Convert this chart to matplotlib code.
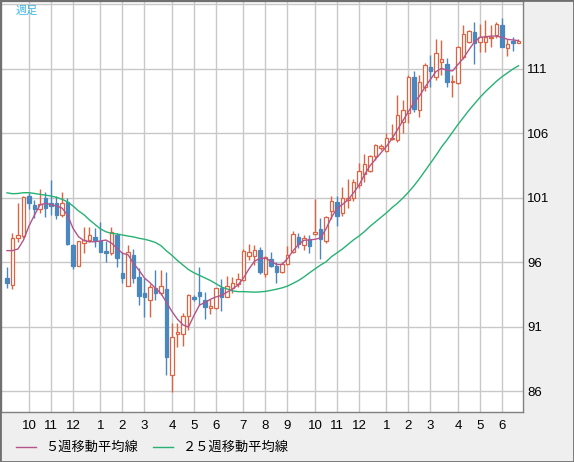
import matplotlib
matplotlib.use("Agg")
import matplotlib.pyplot as plt
from matplotlib.lines import Line2D
from matplotlib.patches import Rectangle

# weekly candles (open, high, low, close), one entry per week
opens = [94.82, 94.26, 97.88, 98.05, 101.16, 100.46, 100.12, 100.98, 100.64, 100.59,
         99.68, 100.71, 97.36, 95.75, 97.49, 97.74, 98.0, 97.67, 96.91, 96.71,
         98.13, 95.21, 94.2, 96.58, 94.9, 93.66, 93.09, 94.0, 93.61, 93.95,
         87.26, 90.46, 90.43, 91.85, 93.3, 93.74, 93.09, 92.45, 92.45, 94.05,
         93.35, 94.0, 94.31, 94.64, 96.53, 96.53, 96.97, 95.11, 96.25, 95.73,
         95.29, 95.88, 96.84, 98.0, 97.36, 97.8, 98.19, 98.57, 97.69, 100.02,
         100.71, 99.81, 100.85, 100.98, 102.0, 102.86, 103.12, 104.23, 104.88, 104.67,
         105.55, 105.5, 106.91, 107.61, 110.4, 107.82, 109.58, 111.18, 110.4, 111.57,
         111.39, 109.97, 109.89, 111.91, 113.12, 113.89, 113.07, 113.12, 113.38, 113.64,
         114.41, 112.6, 113.17, 113.0]
highs = [95.67, 98.31, 100.64, 101.16, 101.36, 100.84, 101.67, 101.49, 102.4, 101.18,
         101.49, 100.98, 97.43, 97.67, 98.73, 98.78, 98.65, 99.16, 97.7, 98.78,
         98.31, 96.84, 97.36, 97.02, 95.55, 94.78, 94.31, 95.42, 95.42, 95.29,
         91.29, 91.33, 92.06, 93.56, 93.48, 95.67, 93.74, 93.15, 94.0, 94.7,
         94.95, 94.9, 95.21, 97.02, 97.41, 97.36, 97.23, 96.5, 96.84, 96.06,
         96.0, 97.28, 98.47, 98.31, 98.13, 98.13, 100.9, 99.43, 99.6, 101.16,
         101.16, 101.83, 102.45, 102.45, 103.74, 104.39, 104.3, 105.19, 105.19, 106.01,
         106.74, 108.98, 108.6, 110.5, 110.84, 110.5, 111.49, 112.09, 113.3, 113.25,
         111.83, 110.53, 112.8, 114.41, 114.05, 114.67, 114.49, 114.8, 114.41, 114.67,
         114.93, 113.3, 113.5, 113.35]
lows = [94.02, 93.92, 97.61, 97.88, 100.15, 99.43, 99.81, 99.5, 99.68, 99.35,
        99.5, 97.36, 95.47, 95.7, 96.71, 97.61, 97.23, 96.8, 96.0, 96.58,
        95.67, 94.39, 94.2, 94.39, 92.71, 91.8, 91.75, 93.09, 93.5, 87.28,
        85.98, 89.47, 89.53, 90.77, 93.0, 92.71, 91.6, 91.99, 92.4, 92.26,
        93.3, 93.61, 94.12, 94.59, 96.19, 95.8, 95.11, 94.85, 95.63, 94.39,
        95.18, 95.8, 96.76, 97.1, 96.98, 96.71, 98.13, 96.25, 97.5, 99.4,
        98.83, 99.6, 100.2, 100.79, 101.8, 102.26, 103.0, 103.95, 104.72, 104.54,
        105.5, 105.32, 106.06, 106.79, 107.69, 107.3, 109.32, 109.58, 110.15, 110.53,
        109.58, 108.81, 109.85, 111.75, 113.05, 111.36, 112.34, 112.34, 112.68, 113.38,
        112.68, 112.0, 112.42, 113.0]
closes = [94.43, 97.92, 98.11, 101.05, 100.64, 100.15, 100.51, 100.2, 100.38, 99.68,
          100.59, 97.43, 95.75, 97.67, 97.74, 98.11, 97.74, 96.84, 96.71, 98.39,
          96.33, 94.82, 96.79, 94.78, 93.4, 93.3, 94.08, 93.66, 94.18, 88.65,
          90.2, 90.59, 91.88, 93.46, 93.15, 93.4, 92.53, 92.63, 94.0, 93.35,
          94.18, 94.39, 94.7, 96.89, 96.79, 96.97, 95.29, 96.4, 95.75, 95.29,
          95.86, 96.58, 98.21, 97.43, 97.88, 97.3, 98.34, 97.8, 99.5, 100.79,
          99.63, 101.02, 100.98, 102.22, 103.1, 103.62, 104.28, 105.09, 105.03, 105.63,
          105.65, 107.41, 107.82, 110.36, 107.9, 110.0, 111.3, 110.87, 112.26, 111.75,
          110.02, 110.09, 112.73, 113.71, 113.97, 113.04, 113.46, 113.5, 113.5, 114.49,
          112.73, 112.94, 113.04, 113.17]

# moving averages
ma5 = [96.92, 96.92, 97.05, 97.74, 98.83, 99.68, 100.46, 100.59, 100.48, 100.38,
       100.22, 99.68, 98.65, 98.0, 97.69, 97.61, 97.61, 97.67, 97.74, 97.5,
       97.1, 96.71, 96.6, 95.94, 95.4, 94.8, 94.43, 94.0, 93.6, 92.9,
       92.2, 91.6, 91.16, 91.0, 91.9, 92.7, 92.9, 93.15, 93.33, 93.45,
       93.7, 93.95, 94.25, 94.8, 95.5, 96.1, 96.33, 96.33, 96.1, 95.85,
       95.85, 96.3, 96.9, 97.4, 97.72, 97.75, 97.8, 97.9, 98.6, 99.5,
       100.2, 100.5, 100.85, 101.4, 102.0, 102.8, 103.5, 104.0, 104.5, 105.0,
       105.6, 106.3, 107.0, 107.7, 108.4, 108.9, 109.6, 110.2, 110.8, 111.05,
       110.9, 110.85, 111.35, 111.85, 112.5, 113.1, 113.45, 113.5, 113.55, 113.55,
       113.45, 113.3, 113.25, 113.2]
ma25 = [101.4, 101.33, 101.35, 101.41, 101.41, 101.35, 101.28, 101.22, 101.15, 101.05,
        100.9, 100.7, 100.38, 100.0, 99.7, 99.3, 98.95, 98.6, 98.38, 98.25,
        98.21, 98.13, 98.05, 97.98, 97.88, 97.8, 97.69, 97.55, 97.3, 96.9,
        96.55, 96.15, 95.8, 95.45, 95.2, 95.0, 94.8, 94.6, 94.35, 94.1,
        93.95, 93.8, 93.74, 93.74, 93.72, 93.7, 93.72, 93.76, 93.84, 93.93,
        94.03, 94.17, 94.38, 94.6, 94.88, 95.2, 95.5, 95.8, 96.05, 96.45,
        96.75, 97.05, 97.4, 97.75, 98.05, 98.4, 98.8, 99.15, 99.5, 99.85,
        100.25, 100.6, 101.0, 101.45, 101.95, 102.5, 103.1, 103.7, 104.3, 104.95,
        105.5, 106.1, 106.7, 107.25, 107.8, 108.3, 108.8, 109.25, 109.65, 110.05,
        110.4, 110.7, 111.0, 111.25]

month_pos = [4, 8, 12, 17, 21, 25, 30, 34, 38, 43, 47, 51, 56, 60, 64, 69, 73, 77, 82, 86, 90]
month_labels = ["10", "11", "12", "1", "2", "3", "4", "5", "6", "7", "8", "9",
                "10", "11", "12", "1", "2", "3", "4", "5", "6"]
price_ticks = [86, 91, 96, 101, 106, 111, 116]
price_labels = ["86", "91", "96", "101", "106", "111", ""]

UP = "#dc6442"
DOWN = "#4a87bf"
MA5_COL = "#b3548c"
MA25_COL = "#27b274"
GRID = "#c8c8c8"
FRAME = "#808080"

W, H = 574, 462
fig = plt.figure(figsize=(W / 100, H / 100), dpi=100, facecolor="#efefef")
ax = fig.add_axes([1 / W, 50 / H, 522 / W, 411 / H])
ax.set_facecolor("white")

x = list(range(len(closes)))

# wicks
wick_cols = [UP if c >= o else DOWN for o, c in zip(opens, closes)]
ax.vlines(x, lows, highs, colors=wick_cols, linewidth=1.0, zorder=3)

# bodies
bottoms = [min(o, c) for o, c in zip(opens, closes)]
heights = [max(abs(c - o), 0.12) for o, c in zip(opens, closes)]
faces = ["white" if c >= o else DOWN for o, c in zip(opens, closes)]
ax.bar(x, heights, bottom=bottoms, width=0.62, color=faces, edgecolor=wick_cols,
       linewidth=0.9, zorder=4)

ax.plot(x, ma25, color=MA25_COL, linewidth=1.0, zorder=5)
ax.plot(x, ma5, color=MA5_COL, linewidth=1.0, zorder=5)

ax.set_xlim(-1.09, 93.82)
ax.set_ylim(84.41, 116.27)

ax.set_xticks(month_pos)
ax.set_xticklabels(month_labels, fontsize=9.5, family="Liberation Sans")
ax.set_yticks(price_ticks)
ax.set_yticklabels(price_labels, fontsize=9.5, family="Liberation Sans")
ax.yaxis.tick_right()
ax.tick_params(axis="both", length=0, colors="black")
ax.tick_params(axis="x", pad=6)
ax.tick_params(axis="y", pad=3)
ax.grid(True, color=GRID, linewidth=1.0, zorder=0)
ax.set_axisbelow(True)
for s in ax.spines.values():
    s.set_color(FRAME)
    s.set_linewidth(1.0)

ax.text(15 / 522, 1 - 10 / 411, "週足", transform=ax.transAxes, color="#3fb6e6",
        fontsize=8, family=["Noto Sans CJK JP", "DejaVu Sans"], va="center", ha="left")

# legend under the chart
def fx(px):
    return px / W

def fy(py):
    return 1 - py / H

fig.add_artist(Line2D([fx(16), fx(36)], [fy(447), fy(447)], color=MA5_COL, linewidth=1.0))
fig.text(fx(45), fy(447), "５週移動平均線", fontsize=9.5, va="center", ha="left",
         family=["Noto Sans CJK JP", "DejaVu Sans"])
fig.add_artist(Line2D([fx(153), fx(173)], [fy(447), fy(447)], color=MA25_COL, linewidth=1.0))
fig.text(fx(183), fy(447), "２５週移動平均線", fontsize=9.5, va="center", ha="left",
         family=["Noto Sans CJK JP", "DejaVu Sans"])

fig.patches.append(Rectangle((0, 0), 1, 1, transform=fig.transFigure, fill=False,
                             edgecolor="#707070", linewidth=2.0))

fig.savefig("out.png", dpi=100, facecolor=fig.get_facecolor())
